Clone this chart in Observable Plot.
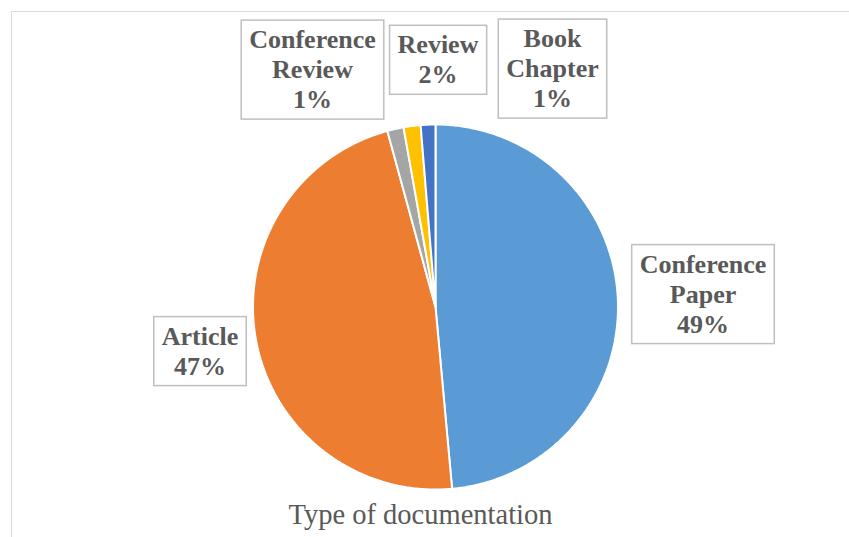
<!DOCTYPE html>
<html><head><meta charset="utf-8">
<script src="https://cdn.jsdelivr.net/npm/d3@7"></script>
<script src="https://cdn.jsdelivr.net/npm/@observablehq/plot@0.6"></script>
<style>
html,body{margin:0;padding:0;background:#fff;overflow:hidden}
#wrap{position:relative;width:849px;height:537px;overflow:hidden}
#chart{position:absolute;left:0;top:0}
#frame{position:absolute;left:11px;top:11px;width:900px;height:600px;border-left:1.5px solid #d9d9d9;border-top:1.5px solid #d9d9d9;box-sizing:border-box;pointer-events:none}
</style></head><body>
<div id="wrap"><div id="chart"></div><div id="frame"></div></div>
<script>
// ---- data ----
const categories = ["Conference Paper", "Article", "Conference Review", "Review", "Book Chapter"];
const shares = [48.55, 47.2, 1.45, 1.5, 1.3];
const labelLines = [["Conference", "Paper"], ["Article"], ["Conference", "Review"], ["Review"], ["Book", "Chapter"]];
const chartTitle = "Type of documentation";

// ---- style / layout ----
const colors = ["#5B9BD5", "#ED7D31", "#A5A5A5", "#FFC000", "#4472C4"];
const serif = "'Liberation Serif', 'Times New Roman', 'DejaVu Serif', serif";
const W = 849, H = 537, CX = 435, CY = 306.5, R = 182.5;
// label box centres, pixels from pie centre (x right, y down)
const labelOffsets = [[267.5, -14.0], [-235.5, 43.0], [-123, -238.5], [2.5, -248.3], [117, -239.5]];

const total = d3.sum(shares);
const arcs = d3.pie().sort(null).value(d => d)(shares);
const slicePts = [];
arcs.forEach((a, i) => {
  slicePts.push({cat: categories[i], x: 0, y: 0});
  const n = Math.max(2, Math.ceil((a.endAngle - a.startAngle) / (Math.PI / 360)));
  for (let j = 0; j <= n; j++) {
    const t = a.startAngle + (a.endAngle - a.startAngle) * j / n;
    slicePts.push({cat: categories[i], x: Math.sin(t), y: Math.cos(t)});
  }
});

const labels = categories.map((c, i) => ({
  cat: c,
  text: labelLines[i].join("\n") + "\n" + Math.round(shares[i] / total * 100) + "%",
  x: labelOffsets[i][0] / R,
  y: -labelOffsets[i][1] / R
}));

const svg = Plot.plot({
  width: W, height: H,
  marginTop: 0, marginRight: 0, marginBottom: 0, marginLeft: 0,
  style: {fontFamily: serif, background: "transparent"},
  x: {domain: [-CX / R, (W - CX) / R], range: [0, W], axis: null},
  y: {domain: [-(H - CY) / R, CY / R], range: [H, 0], axis: null},
  color: {domain: categories, range: colors},
  marks: [
    Plot.text(labels, {x: "x", y: "y", text: "text", fontSize: 26, fontWeight: "bold",
      fontFamily: serif, fill: "#595959", lineHeight: 30 / 26}),
    Plot.line(slicePts, {x: "x", y: "y", z: "cat", fill: "cat", stroke: "white",
      strokeWidth: 2, curve: "linear-closed", strokeLinejoin: "miter"}),
    Plot.text([chartTitle], {text: d => d, frameAnchor: "bottom", lineAnchor: "bottom",
      dx: -4.5, dy: -14, fontSize: 28.5, fill: "#595959", fontFamily: serif})
  ]
});
document.getElementById("chart").append(svg);

// boxes around data labels
const g = svg.querySelectorAll('g[aria-label="text"]')[0];
g.querySelectorAll("text").forEach(t => {
  const bb = t.getBBox();
  const r = document.createElementNS("http://www.w3.org/2000/svg", "rect");
  r.setAttribute("x", bb.x - 8);
  r.setAttribute("y", bb.y - 5);
  r.setAttribute("width", bb.width + 16);
  r.setAttribute("height", bb.height + 10);
  if (t.getAttribute("transform")) r.setAttribute("transform", t.getAttribute("transform"));
  r.setAttribute("fill", "white");
  r.setAttribute("stroke", "#bfbfbf");
  r.setAttribute("stroke-width", "1.5");
  g.insertBefore(r, t);
});
</script>
</body></html>
